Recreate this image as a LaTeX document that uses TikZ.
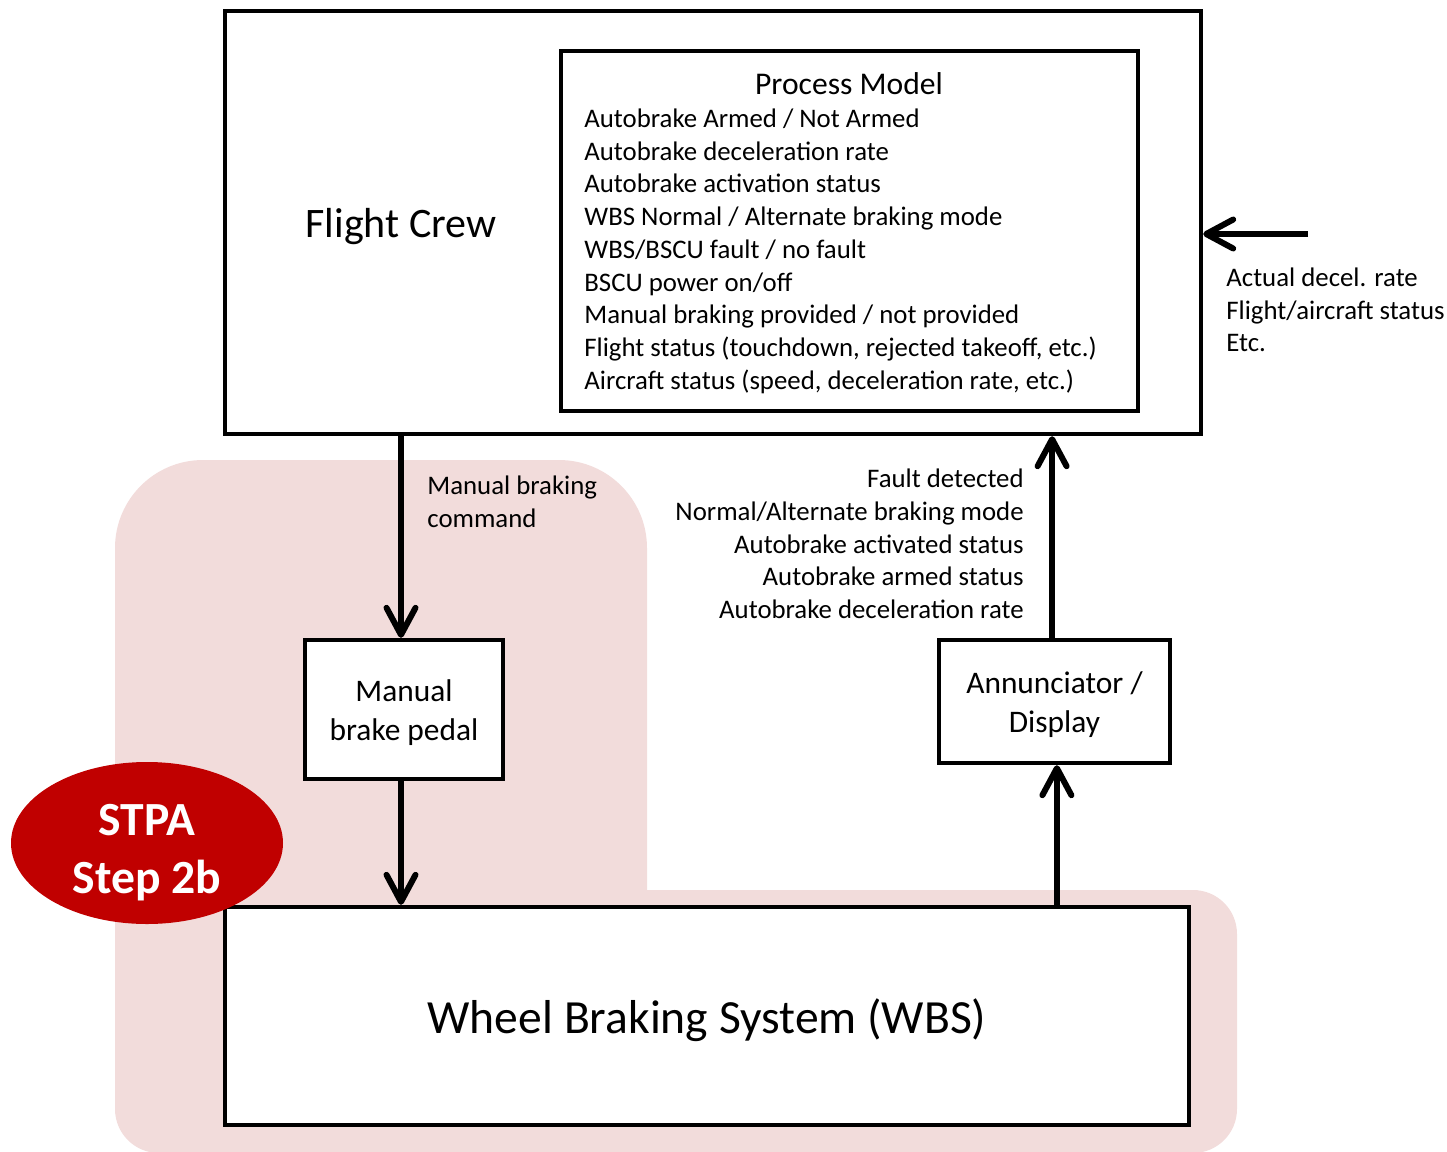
\documentclass[tikz,border=0pt]{standalone}
\usepackage{fontspec}
\setmainfont{Carlito}
\usetikzlibrary{arrows.meta,shapes.geometric}
\definecolor{pinkbg}{HTML}{F2DCDB}
\definecolor{stpared}{HTML}{C00000}
\begin{document}
\begin{tikzpicture}[x=0.5pt,y=-0.5pt,
  box/.style={draw=black,line width=2.2pt,fill=white,inner sep=0pt},
  flow/.style={line width=3pt,-{Straight Barb[length=13.5pt,width=14.5pt,round]}},
  small/.style={font=\fontsize{13.4}{16.35}\selectfont,inner sep=0pt},
  boxfont/.style={font=\fontsize{15.7}{19.5}\selectfont,align=center,inner sep=0pt}
]
\useasboundingbox (0,0) rectangle (1447,1152);
% pink highlight region
\fill[pinkbg] (380,1153) [rounded corners=22pt] -- (115,1153) [rounded corners=44pt] -- (115,460) -- (647,460) [sharp corners] -- (647,890) [rounded corners=22pt] -- (1237,890) -- (1237,1153) -- cycle;

% boxes
\node[box,minimum width=488pt,minimum height=211.5pt] (fc) at (713,222.5) {};
\node[box,minimum width=288.5pt,minimum height=180pt] (pm) at (849.5,231) {};
\node[box,minimum width=99pt,minimum height=69.5pt] (mbp) at (404,709.5) {};
\node[box,minimum width=115.5pt,minimum height=61.5pt] (ann) at (1054.5,701.5) {};
\node[box,minimum width=482pt,minimum height=109pt] (wbs) at (707,1016) {};
\node[ellipse,fill=stpared,inner sep=0pt,minimum width=136pt,minimum height=81pt] (stpa) at (147,843) {};

% box texts
\node[boxfont] (mbptext) at ([yshift=-1.5pt]mbp.center) {Manual\\brake pedal};
\node[boxfont] (anntext) at ([yshift=-1.5pt]ann.center) {Annunciator /\\Display};
\node[inner sep=0pt,font=\fontsize{23.8}{29}\selectfont] (wbstext) at ([yshift=-2pt]wbs.center) {Wheel Braking System (WBS)};
\node[text=white,align=center,inner sep=0pt,font=\bfseries\fontsize{23.8}{29}\selectfont] (stpatext) at ([yshift=-5pt]stpa.center) {STPA\\Step 2b};

% texts in Flight Crew box
\node[anchor=base,inner sep=0pt,font=\fontsize{21}{25}\selectfont] (fctext) at (401,237.5) {Flight Crew};
\node[anchor=base,inner sep=0pt,font=\fontsize{15.8}{19}\selectfont] (pmtitle) at (849,94) {Process Model};
\foreach \t [count=\i] in {{Autobrake Armed / Not Armed},{Autobrake deceleration rate},{Autobrake activation status},{WBS Normal / Alternate braking mode},{WBS/BSCU fault / no fault},{BSCU power on/off},{Manual braking provided / not provided},{Flight status (touchdown, rejected takeoff, etc.)},{Aircraft status (speed, deceleration rate, etc.)}}
  \node[small,anchor=base west] (pm\i) at (584,{127.5+32.7*(\i-1)}) {\t};

% connectors
\draw[flow] (fc.south -| 401,0) -- ([xshift=-1.5pt]mbp.north);
\draw[flow] ([xshift=-1.5pt]mbp.south) -- ([xshift=-1.5pt]mbp.south |- wbs.north);
\draw[flow] ([xshift=-1.2pt]ann.north) -- ([xshift=-1.2pt]ann.north |- fc.south);
\draw[flow] ([xshift=1.2pt]ann.south |- wbs.north) -- ([xshift=1.2pt]ann.south);
\coordinate (ext) at (1308,234);
\draw[flow] (ext) -- (ext -| fc.east);

% connector labels
\node[small,anchor=base west] (mbc1) at (427,494.5) {Manual braking};
\node[small,anchor=base west] (mbc2) at (427,527.5) {command};
\foreach \t [count=\i] in {{Fault detected},{Normal/Alternate braking mode},{Autobrake activated status},{Autobrake armed status},{Autobrake deceleration rate}}
  \node[small,anchor=base east] (fb\i) at (1024,{487.5+32.75*(\i-1)}) {\t};
\foreach \t [count=\i] in {{Actual decel. rate},{Flight/aircraft status},{Etc.}}
  \node[small,anchor=base west] (ex\i) at (1226,{286.5+32.5*(\i-1)}) {\t};
\end{tikzpicture}
\end{document}
